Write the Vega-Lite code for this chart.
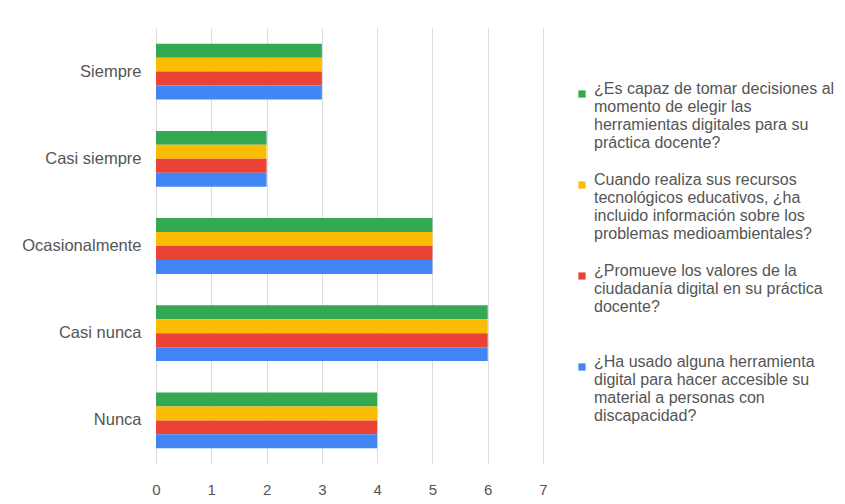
{
  "$schema": "https://vega.github.io/schema/vega-lite/v6.json",
  "width": 387,
  "height": 436,
  "autosize": {"type": "none"},
  "padding": {"left": 156, "top": 28, "right": 302, "bottom": 40},
  "background": "white",
  "data": {
    "values": [
      {"cat": "Siempre", "serie": "¿Es capaz de tomar decisiones al|momento de elegir las|herramientas digitales para su|práctica docente?", "n": 3},
      {"cat": "Siempre", "serie": "Cuando realiza sus recursos|tecnológicos educativos, ¿ha|incluido información sobre los|problemas medioambientales?", "n": 3},
      {"cat": "Siempre", "serie": "¿Promueve los valores de la|ciudadanía digital en su práctica|docente?", "n": 3},
      {"cat": "Siempre", "serie": "¿Ha usado alguna herramienta|digital para hacer accesible su|material a personas con|discapacidad?", "n": 3},
      {"cat": "Casi siempre", "serie": "¿Es capaz de tomar decisiones al|momento de elegir las|herramientas digitales para su|práctica docente?", "n": 2},
      {"cat": "Casi siempre", "serie": "Cuando realiza sus recursos|tecnológicos educativos, ¿ha|incluido información sobre los|problemas medioambientales?", "n": 2},
      {"cat": "Casi siempre", "serie": "¿Promueve los valores de la|ciudadanía digital en su práctica|docente?", "n": 2},
      {"cat": "Casi siempre", "serie": "¿Ha usado alguna herramienta|digital para hacer accesible su|material a personas con|discapacidad?", "n": 2},
      {"cat": "Ocasionalmente", "serie": "¿Es capaz de tomar decisiones al|momento de elegir las|herramientas digitales para su|práctica docente?", "n": 5},
      {"cat": "Ocasionalmente", "serie": "Cuando realiza sus recursos|tecnológicos educativos, ¿ha|incluido información sobre los|problemas medioambientales?", "n": 5},
      {"cat": "Ocasionalmente", "serie": "¿Promueve los valores de la|ciudadanía digital en su práctica|docente?", "n": 5},
      {"cat": "Ocasionalmente", "serie": "¿Ha usado alguna herramienta|digital para hacer accesible su|material a personas con|discapacidad?", "n": 5},
      {"cat": "Casi nunca", "serie": "¿Es capaz de tomar decisiones al|momento de elegir las|herramientas digitales para su|práctica docente?", "n": 6},
      {"cat": "Casi nunca", "serie": "Cuando realiza sus recursos|tecnológicos educativos, ¿ha|incluido información sobre los|problemas medioambientales?", "n": 6},
      {"cat": "Casi nunca", "serie": "¿Promueve los valores de la|ciudadanía digital en su práctica|docente?", "n": 6},
      {"cat": "Casi nunca", "serie": "¿Ha usado alguna herramienta|digital para hacer accesible su|material a personas con|discapacidad?", "n": 6},
      {"cat": "Nunca", "serie": "¿Es capaz de tomar decisiones al|momento de elegir las|herramientas digitales para su|práctica docente?", "n": 4},
      {"cat": "Nunca", "serie": "Cuando realiza sus recursos|tecnológicos educativos, ¿ha|incluido información sobre los|problemas medioambientales?", "n": 4},
      {"cat": "Nunca", "serie": "¿Promueve los valores de la|ciudadanía digital en su práctica|docente?", "n": 4},
      {"cat": "Nunca", "serie": "¿Ha usado alguna herramienta|digital para hacer accesible su|material a personas con|discapacidad?", "n": 4}
    ]
  },
  "mark": {"type": "bar"},
  "encoding": {
    "y": {
      "field": "cat",
      "type": "nominal",
      "sort": ["Siempre", "Casi siempre", "Ocasionalmente", "Casi nunca", "Nunca"],
      "scale": {"paddingInner": 0.36, "paddingOuter": 0.18},
      "axis": {"title": null, "domain": false, "ticks": false, "labelPadding": 15, "labelFontSize": 16.5, "labelColor": "#555", "labelFont": "Liberation Sans"}
    },
    "yOffset": {
      "field": "serie",
      "type": "nominal",
      "sort": [
        "¿Es capaz de tomar decisiones al|momento de elegir las|herramientas digitales para su|práctica docente?",
        "Cuando realiza sus recursos|tecnológicos educativos, ¿ha|incluido información sobre los|problemas medioambientales?",
        "¿Promueve los valores de la|ciudadanía digital en su práctica|docente?",
        "¿Ha usado alguna herramienta|digital para hacer accesible su|material a personas con|discapacidad?"
      ],
      "scale": {"paddingInner": 0, "paddingOuter": 0}
    },
    "x": {
      "field": "n",
      "type": "quantitative",
      "scale": {"domain": [0, 7], "nice": false},
      "axis": {"title": null, "domain": false, "ticks": false, "values": [0,1,2,3,4,5,6,7], "labelPadding": 18, "labelFontSize": 15, "labelColor": "#555", "labelFont": "Liberation Sans", "gridColor": "#dcdcdc", "labelFlush": false}
    },
    "color": {
      "field": "serie",
      "type": "nominal",
      "scale": {
        "domain": [
          "¿Es capaz de tomar decisiones al|momento de elegir las|herramientas digitales para su|práctica docente?",
          "Cuando realiza sus recursos|tecnológicos educativos, ¿ha|incluido información sobre los|problemas medioambientales?",
          "¿Promueve los valores de la|ciudadanía digital en su práctica|docente?",
          "¿Ha usado alguna herramienta|digital para hacer accesible su|material a personas con|discapacidad?"
        ],
        "range": ["#34a853", "#fbbc04", "#ea4335", "#4285f4"]
      },
      "legend": {
        "title": null,
        "orient": "none",
        "legendX": 418,
        "legendY": 58,
        "symbolType": "square",
        "symbolSize": 52,
        "symbolStrokeWidth": 0,
        "labelFontSize": 16,
        "labelFont": "Liberation Sans",
        "labelColor": "#555",
        "labelLimit": 400,
        "labelOffset": 4,
        "labelBaseline": "alphabetic",
        "gridAlign": "all",
        "rowPadding": 21,
        "labelExpr": "split(datum.label, '|')"
      }
    }
  },
  "config": {"view": {"stroke": null}}
}
